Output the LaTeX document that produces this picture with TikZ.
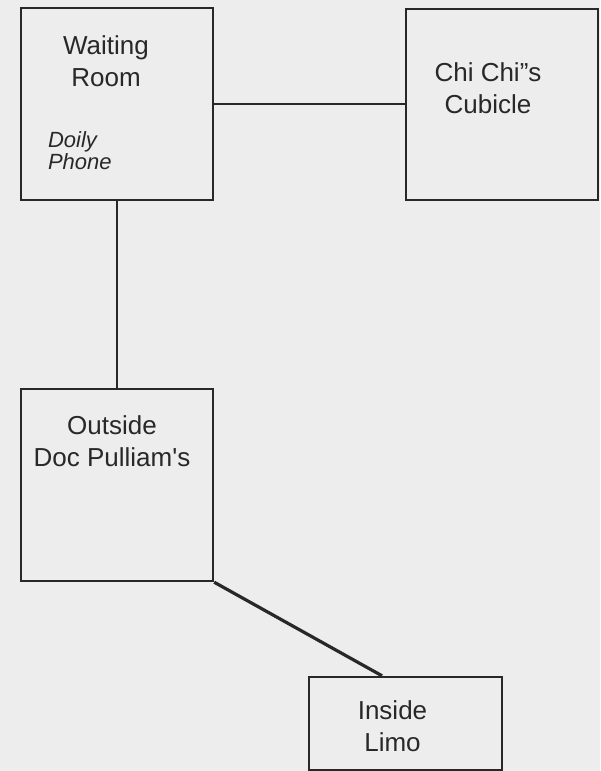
\documentclass[tikz,border=0pt]{standalone}
\usepackage{fontspec}
\setmainfont{Liberation Sans}
\usepackage{xcolor}
\usepackage{tikz}
\usetikzlibrary{positioning,calc}
\definecolor{paper}{RGB}{237,237,237}
\definecolor{inkgray}{RGB}{40,40,40}
\tikzset{
  room-box/.style={draw=inkgray, line width=2.4pt, minimum width=192pt,
    minimum height=192pt, inner sep=0pt},
  room-name/.style={font=\fontsize{26}{32}\selectfont, align=center,
    text=inkgray, inner sep=0pt},
  room-item/.style={font=\fontsize{22}{22}\selectfont\itshape, align=left,
    text=inkgray, inner sep=0pt},
  room-link/.style={draw=inkgray, line width=2.4pt}
}
\begin{document}
\begin{tikzpicture}[x=1pt, y=-1pt]
% page and background
\fill[paper] (0, 0) rectangle (600, 771);
\useasboundingbox (0, 0) rectangle (600, 771);

% Rooms
\node[room-box] (waiting) at (117, 104) {};
\node[room-box, minimum height=191pt] (chichi) at (502, 104.5) {};
\node[room-box] (outside) at (117, 485) {};
\node[room-box, minimum width=193pt, minimum height=93pt] (limo) at (405.5, 723.5) {};

% Room names
\node[room-name, below=29pt of waiting.north, xshift=-11pt] {Waiting\\Room};
\node[room-item, below right=125pt and 28pt of waiting.north west] {Doily\\Phone};
\node[room-name, below=55pt of chichi.north, xshift=-14pt] {Chi Chi''s\\Cubicle};
\node[room-name, below=28pt of outside.north, xshift=-5pt] {Outside\\Doc Pulliam\textquotesingle s};
\node[room-name, below=25pt of limo.north, xshift=-13pt] {Inside\\Limo};

% Connections
\draw[room-link] (waiting.east) -- (chichi.west |- waiting.east);
\draw[room-link] (waiting.south) -- (outside.north);
\draw[room-link, line width=3.2pt] (outside.south east) -- ($(limo.north west)!0.38!(limo.north east)$);
\end{tikzpicture}
\end{document}
